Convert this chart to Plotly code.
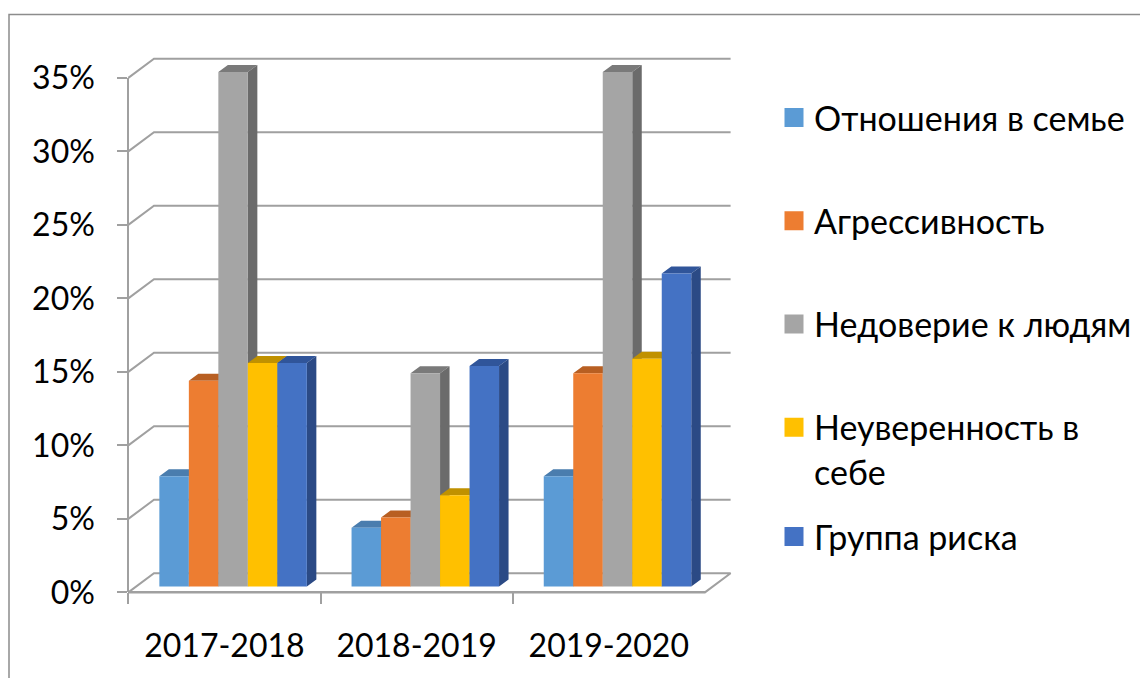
import plotly.graph_objects as go

# ---------------- data ----------------
years = ["2017-2018", "2018-2019", "2019-2020"]
series_names = [
    "Отношения в семье",
    "Агрессивность",
    "Недоверие к людям",
    "Неуверенность в<br>себе",
    "Группа риска",
]
family = [7.5, 4.0, 7.5]
aggression = [14.0, 4.7, 14.5]
distrust = [35.0, 14.5, 35.0]
insecurity = [15.2, 6.2, 15.5]
risk_group = [15.2, 15.0, 21.3]
series_values = [family, aggression, distrust, insecurity, risk_group]
y_ticks = [0, 5, 10, 15, 20, 25, 30, 35]

# ---------------- style ----------------
front_colors = ["#5B9BD5", "#ED7D31", "#A5A5A5", "#FFC000", "#4472C4"]
top_colors = ["#4A7DAE", "#B85F22", "#7A7A7A", "#C09100", "#30559A"]
side_colors = ["#3B6590", "#A2521C", "#6B6B6B", "#A67D00", "#2B4A85"]
grid_color = "#A0A0A0"
FONT = "Lato, 'Noto Sans', sans-serif"
FS_TICK = 32
FS_LEG = 34

# page (body) offset of the figure
OFF = 8
W, H = 1148 - OFF, 678 - OFF
PW, PH = 660, 580
M_L, M_T = 100 - OFF, 40 - OFF
M_R, M_B = W - M_L - PW, H - M_T - PH

PX_CAT = 192.2      # pixels per category
PX_PCT = 14.7       # pixels per percent
CX0 = 233.1         # page x of first category centre (bar plane)
Y0 = 586.5          # page y of 0 % (bar plane)


def fx(px):
    """page x pixel -> paper fraction"""
    return (px - OFF - M_L) / PW


def fy(py):
    """page y pixel -> paper fraction"""
    return (M_T + PH - (py - OFF)) / PH


x0 = -(CX0 - OFF - M_L) / PX_CAT
x1 = x0 + PW / PX_CAT
y1 = (Y0 - OFF - M_T) / PX_PCT
y0 = y1 - PH / PX_PCT

# depth offsets (data units)
dxF, dyF = -8.7 / PX_CAT, -5.9 / PX_PCT     # front plane
dxB, dyB = 17.0 / PX_CAT, 13.3 / PX_PCT     # back wall
dxS, dyS = 9.5 / PX_CAT, 7.0 / PX_PCT       # bar depth
bw = 29.5 / PX_CAT                          # bar width
n_ser = len(series_values)

xa, xb = -0.5, len(years) - 0.5

fig = go.Figure()

# floor
fig.add_trace(go.Scatter(
    x=[xa + dxF, xb + dxF, xb + dxB, xa + dxB, xa + dxF],
    y=[dyF, dyF, dyB, dyB, dyF],
    mode="lines", fill="toself", fillcolor="white",
    line=dict(color=grid_color, width=2),
    hoverinfo="skip", showlegend=False))

# back wall gridlines
gx, gy = [], []
for v in y_ticks[1:]:
    gx += [xa + dxF, xa + dxB, xb + dxB, None]
    gy += [v + dyF, v + dyB, v + dyB, None]
fig.add_trace(go.Scatter(x=gx, y=gy, mode="lines",
                         line=dict(color=grid_color, width=2),
                         hoverinfo="skip", showlegend=False))

# 3-D tops and sides
for k, vals in enumerate(series_values):
    tx, ty, sx, sy = [], [], [], []
    for i, v in enumerate(vals):
        xl = i - n_ser * bw / 2 + k * bw
        xr = xl + bw
        tx += [xl, xl + dxS, xr + dxS, xr, xl, None]
        ty += [v, v + dyS, v + dyS, v, v, None]
        sx += [xr, xr, xr + dxS, xr + dxS, xr, None]
        sy += [0, v, v + dyS, dyS, 0, None]
    fig.add_trace(go.Scatter(x=tx, y=ty, mode="lines", fill="toself",
                             fillcolor=top_colors[k], line=dict(width=0),
                             hoverinfo="skip", showlegend=False))
    fig.add_trace(go.Scatter(x=sx, y=sy, mode="lines", fill="toself",
                             fillcolor=side_colors[k], line=dict(width=0),
                             hoverinfo="skip", showlegend=False))

# front faces of bars (overlay layer)
for k, vals in enumerate(series_values):
    fig.add_trace(go.Bar(
        x=list(range(len(years))), y=vals, name=series_names[k],
        marker=dict(color=front_colors[k], line=dict(width=0)),
        xaxis="x3", yaxis="y3", legendgroup=f"s{k}", showlegend=False,
        customdata=years,
        hovertemplate="%{customdata}: %{y}%<extra>"
        + series_names[k].replace("<br>", " ") + "</extra>"))

# legend entries
for k in range(n_ser):
    fig.add_trace(go.Scatter(
        x=[None], y=[None], mode="markers", name=series_names[k],
        marker=dict(symbol="square", size=16, color=front_colors[k],
                    line=dict(color=front_colors[k], width=3)),
        legendgroup=f"s{k}", legend="legend2" if k == n_ser - 1 else "legend",
        showlegend=True))

# front axes (labels)
fig.add_trace(go.Scatter(x=years, y=[None] * len(years), xaxis="x2", yaxis="y2",
                         mode="markers", hoverinfo="skip", showlegend=False))

front_left_px = CX0 - PX_CAT / 2 - 8.7
front_zero_px = Y0 + 5.9

fig.update_layout(
    width=W, height=H,
    margin=dict(l=M_L, r=M_R, t=M_T, b=M_B, autoexpand=False),
    paper_bgcolor="white", plot_bgcolor="rgba(0,0,0,0)",
    font=dict(family=FONT, size=FS_TICK, color="black"),
    barmode="group", bargap=1 - n_ser * bw, bargroupgap=0,
    xaxis=dict(range=[x0, x1], visible=False, fixedrange=True),
    yaxis=dict(range=[y0, y1], visible=False, fixedrange=True),
    xaxis3=dict(range=[x0, x1], visible=False, overlaying="x", fixedrange=True),
    yaxis3=dict(range=[y0, y1], visible=False, overlaying="y", fixedrange=True),
    xaxis2=dict(
        type="category", categoryorder="array", categoryarray=years,
        range=[-0.5, len(years) - 0.5],
        domain=[fx(front_left_px), fx(front_left_px + len(years) * PX_CAT)],
        anchor="free", position=fy(front_zero_px), automargin=False,
        showline=True, linecolor=grid_color, linewidth=2,
        ticks="outside", ticklen=11, tickwidth=2, tickcolor=grid_color,
        tickson="boundaries", showgrid=False, zeroline=False,
        tickfont=dict(family=FONT, size=FS_TICK), ticklabelstandoff=25,
        fixedrange=True),
    yaxis2=dict(
        range=[0, 35], dtick=5, tick0=0, ticksuffix="%",
        domain=[fy(front_zero_px), fy(front_zero_px - 35 * PX_PCT)],
        anchor="free", position=fx(front_left_px), automargin=False,
        showline=True, linecolor=grid_color, linewidth=2,
        ticks="outside", ticklen=10, tickwidth=2, tickcolor=grid_color,
        showgrid=False, zeroline=False,
        tickfont=dict(family=FONT, size=FS_TICK), ticklabelstandoff=16,
        fixedrange=True),
    legend=dict(x=fx(774), xanchor="left", y=fy(89), yanchor="top",
                tracegroupgap=56, valign="top", itemsizing="trace",
                font=dict(family=FONT, size=FS_LEG), bgcolor="rgba(0,0,0,0)"),
    legend2=dict(x=fx(774), xanchor="left", y=fy(508), yanchor="top",
                 valign="top", itemsizing="trace",
                 font=dict(family=FONT, size=FS_LEG), bgcolor="rgba(0,0,0,0)"),
    shapes=[dict(type="rect", xref="paper", yref="paper",
                 x0=fx(9), x1=fx(1200), y0=fy(720), y1=fy(14.5),
                 line=dict(color="#8C8C8C", width=1.5), layer="below")],
)

fig.write_html("out.html")
